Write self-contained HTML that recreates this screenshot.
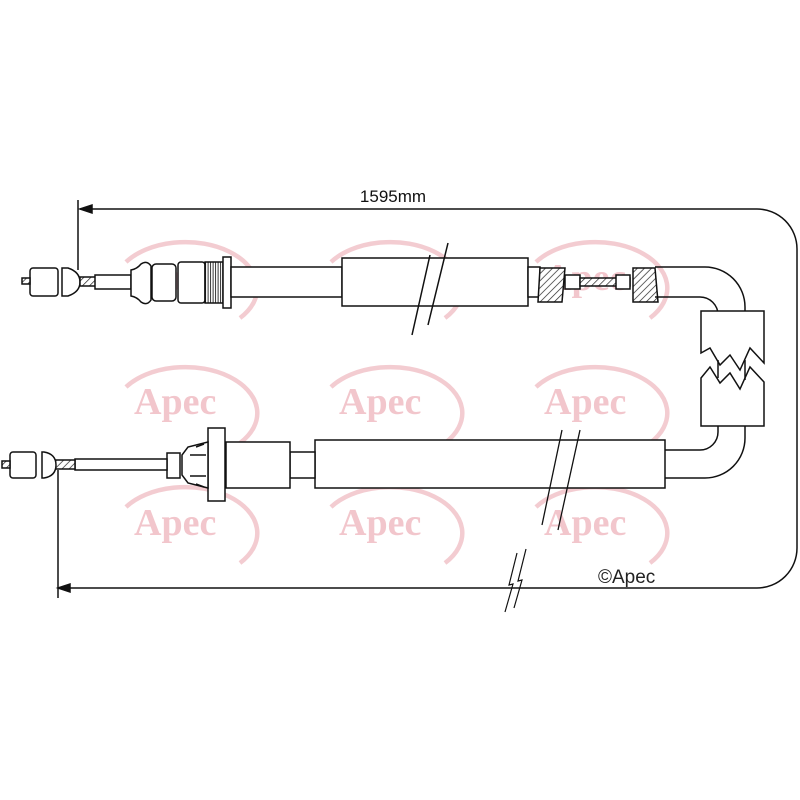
<!DOCTYPE html>
<html><head><meta charset="utf-8"><style>html,body{margin:0;padding:0;background:#fff}svg{display:block}</style></head>
<body>
<svg width="800" height="800" viewBox="0 0 800 800" xmlns="http://www.w3.org/2000/svg">
<defs>
<pattern id="h" width="5" height="5" patternUnits="userSpaceOnUse" patternTransform="rotate(45)"><rect width="5" height="5" fill="#fff"/><line x1="0" y1="0" x2="0" y2="5" stroke="#222" stroke-width="1.4"/></pattern>
<pattern id="k" width="2.5" height="4" patternUnits="userSpaceOnUse"><rect width="2.5" height="4" fill="#fff"/><line x1="0.6" y1="0" x2="0.6" y2="4" stroke="#222" stroke-width="0.9"/></pattern>
</defs>
<!-- watermarks -->
<g fill="none" stroke="#f3ccd1" stroke-width="4.5">
<g id="wm"><path d="M126,262 A72,46 0 1 1 240,318"/></g>
<use href="#wm" x="205"/><use href="#wm" x="410"/>
<use href="#wm" y="125"/><use href="#wm" x="205" y="125"/><use href="#wm" x="410" y="125"/>
<use href="#wm" y="245"/><use href="#wm" x="205" y="245"/><use href="#wm" x="410" y="245"/>
</g>
<g fill="#f2c6cc" font-family="Liberation Serif, serif" font-size="38" font-weight="bold">
<text x="134" y="290">Apec</text><text x="339" y="290">Apec</text><text x="544" y="290">Apec</text>
<text x="134" y="414">Apec</text><text x="339" y="414">Apec</text><text x="544" y="414">Apec</text>
<text x="134" y="535">Apec</text><text x="339" y="535">Apec</text><text x="544" y="535">Apec</text>
</g>
<g fill="none" stroke="#111" stroke-width="1.5">
<!-- dimension -->
<path d="M80,209 H757 A40,40 0 0 1 797,249 V548 A40,40 0 0 1 757,588 H58"/>
<path d="M78,200 V270 M58,470 V598"/>
<path d="M80,209 l12,-4 v8 z M58,588 l12,-4 v8 z" fill="#111"/>
<path d="M505,612 l8,-28 -4,1 8,-32 M514,608 l8,-28 -4,1 8,-32" stroke-width="1.2"/>
<!-- top cable -->
<rect x="30" y="268" width="28" height="28" rx="3" fill="#fff"/>
<path d="M22,278 h8 v6 h-8z" fill="url(#h)"/>
<path d="M62,268 h6 q12,4 12,14 q0,10 -12,14 h-6z" fill="#fff"/>
<rect x="80" y="277" width="16" height="9" fill="url(#h)"/>
<rect x="95" y="275" width="36" height="14" fill="#fff"/>
<path d="M131,270 q6,-1 10,-6 q6,-4 10,2 v34 q-4,6 -10,2 q-4,-5 -10,-6z" fill="#fff"/>
<rect x="152" y="264" width="24" height="37" rx="4" fill="#fff"/>
<rect x="178" y="262" width="27" height="41" rx="3" fill="#fff"/>
<rect x="205" y="262" width="18" height="41" fill="url(#k)"/>
<rect x="223" y="257" width="8" height="51" fill="#fff"/>
<rect x="231" y="267" width="111" height="30" fill="#fff"/>
<rect x="342" y="258" width="186" height="48" fill="#fff"/>
<path d="M412,335 l18,-80 M428,325 l20,-82"/>
<rect x="528" y="267" width="12" height="30" fill="#fff"/>
<path d="M540,268 h25 l-3,34 h-24z" fill="url(#h)"/>
<rect x="565" y="275" width="15" height="14" fill="#fff"/>
<rect x="580" y="278" width="50" height="8" fill="url(#h)"/>
<rect x="616" y="275" width="14" height="14" fill="#fff"/>
<path d="M633,268 h22 l3,34 h-25z" fill="url(#h)"/>
<path d="M655,267 H705 A40,40 0 0 1 745,307 V311 M655,297 H700 A18,18 0 0 1 718,315"/>
<path d="M701,311 H764 V363 L750,348 740,370 730,355 720,365 710,348 701,353 Z" fill="#fff"/>
<path d="M701,378 L710,367 720,383 730,373 740,389 750,367 764,382 V426 H701 Z" fill="#fff"/>
<path d="M718,360 V378 M745,360 V380"/>
<path d="M745,426 V438 A40,40 0 0 1 705,478 H665 M718,426 V432 A18,18 0 0 1 700,450 H665"/>
<!-- bottom cable -->
<rect x="315" y="440" width="350" height="48" fill="#fff"/>
<path d="M542,525 l20,-95 M558,530 l22,-100" stroke-width="1.3"/>
<rect x="290" y="452" width="25" height="26" fill="#fff"/>
<rect x="226" y="442" width="64" height="46" fill="#fff"/>
<rect x="208" y="428" width="17" height="73" fill="#fff"/>
<path d="M208,442 l-20,5 -6,8 v20 l6,8 20,5 z" fill="#fff"/>
<path d="M190,455 h16 M190,476 h16 M196,447 l8,-3 M196,484 l8,3"/>
<rect x="167" y="453" width="13" height="25" fill="#fff"/>
<rect x="75" y="459" width="92" height="11" fill="#fff"/>
<rect x="55" y="460" width="20" height="9" fill="url(#h)"/>
<path d="M42,452 h2 q12,2 12,13 q0,11 -12,13 h-2z" fill="#fff"/>
<rect x="10" y="452" width="26" height="26" rx="3" fill="#fff"/>
<path d="M2,461 h8 v7 h-8z" fill="url(#h)"/>
</g>
<text x="393" y="202" text-anchor="middle" font-family="Liberation Sans, sans-serif" font-size="17" fill="#111">1595mm</text>
<text x="598" y="583" font-family="Liberation Sans, sans-serif" font-size="19" fill="#222">©Apec</text>
</svg>
</body></html>
